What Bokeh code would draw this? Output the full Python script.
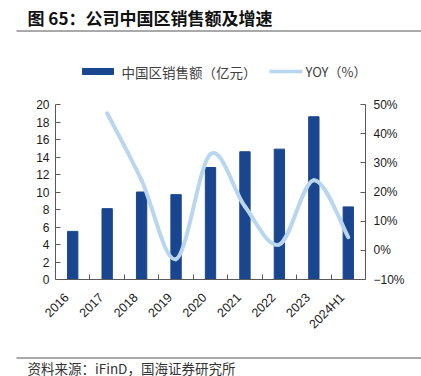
import numpy as np
from math import pi
from bokeh.plotting import figure
from bokeh.models import Range1d, LinearAxis, FixedTicker, Label
from bokeh.layouts import column
from bokeh.embed import file_html
from bokeh.resources import INLINE

# ---------------- data ----------------
years = ["2016", "2017", "2018", "2019", "2020", "2021", "2022", "2023", "2024H1"]
sales = [5.5, 8.1, 10.0, 9.7, 12.8, 14.6, 14.9, 18.6, 8.3]          # 亿元
yoy_years = ["2017", "2018", "2019", "2020", "2021", "2022", "2023", "2024H1"]
yoy = [47, 24, -3, 33, 15, 2, 24, 4.5]                               # %
left_ticks = [0, 2, 4, 6, 8, 10, 12, 14, 16, 18, 20]
right_ticks = [-10, 0, 10, 20, 30, 40, 50]
right_labels = ["\u221210%", "0%", "10%", "20%", "30%", "40%", "50%"]

title_text = "图 65：公司中国区销售额及增速"
source_text = "资料来源：iFinD，国海证券研究所"
bar_label = "中国区销售额（亿元）"
line_label = "YOY（%）"

BAR = "#1A4690"
LINE = "#B9D6EF"
AXIS = "#595959"
CJK = "Noto Sans CJK SC"
LAT = "Liberation Sans"
W = 421


def blank(height):
    f = figure(width=W, height=height, x_range=Range1d(0, W), y_range=Range1d(height, 0),
               output_backend="svg", toolbar_location=None, min_border=0,
               min_border_left=0, min_border_right=0, min_border_top=0, min_border_bottom=0,
               x_axis_location=None, y_axis_location=None, title=None, frame_align=False)
    f.grid.visible = False
    f.outline_line_color = None
    return f


# ---------------- header (title + legend) ----------------
hdr = blank(90)
hdr.add_layout(Label(x=27, y=17, text=title_text, text_font=CJK, text_font_size="17px",
                     text_font_style="bold", text_color="#111111", text_baseline="middle"))
hdr.segment(x0=[16], y0=[30.5], x1=[W], y1=[30.5], line_color="#555555", line_width=1)
# legend swatches
hdr.rect(x=[97.5], y=[71], width=[31], height=[6], fill_color=BAR, line_color=BAR)
hdr.add_layout(Label(x=121, y=71, text=bar_label, text_font=CJK, text_font_size="13.5px",
                     text_color="#404040", text_baseline="middle"))
hdr.segment(x0=[269], y0=[71], x1=[302], y1=[71], line_color=LINE, line_width=3.5)
hdr.add_layout(Label(x=305, y=71, text=line_label, text_font=CJK, text_font_size="13px",
                     text_color="#404040", text_baseline="middle"))

# ---------------- main chart ----------------
n = len(years)
xc = [i + 0.5 for i in range(n)]
p = figure(width=W, height=260, x_range=Range1d(0, n), y_range=Range1d(0, 20),
           output_backend="svg", toolbar_location=None, frame_align=False,
           min_border_left=55, min_border_right=56, min_border_top=14, min_border_bottom=71)
p.grid.visible = False
p.outline_line_color = None
p.extra_y_ranges = {"yoy": Range1d(-10, 50)}

p.vbar(x=xc, top=sales, width=0.3, fill_color=BAR, line_color=BAR)

# smooth curve through YOY points (Catmull-Rom -> cubic Bezier segments)
yx = [years.index(y) + 0.5 for y in yoy_years]
m = len(yx)
x0s, y0s, x1s, y1s, cx0s, cy0s, cx1s, cy1s = ([] for _ in range(8))
for i in range(m - 1):
    a = max(i - 1, 0)
    d = min(i + 2, m - 1)
    x0s.append(yx[i]); y0s.append(yoy[i])
    x1s.append(yx[i + 1]); y1s.append(yoy[i + 1])
    cx0s.append(yx[i] + (yx[i + 1] - yx[a]) / 6); cy0s.append(yoy[i] + (yoy[i + 1] - yoy[a]) / 6)
    cx1s.append(yx[i + 1] - (yx[d] - yx[i]) / 6); cy1s.append(yoy[i + 1] - (yoy[d] - yoy[i]) / 6)
p.bezier(x0=x0s, y0=y0s, x1=x1s, y1=y1s, cx0=cx0s, cy0=cy0s, cx1=cx1s, cy1=cy1s,
         line_color=LINE, line_width=4, line_cap="round", y_range_name="yoy")

# left axis
ya = p.yaxis[0]
ya.ticker = FixedTicker(ticks=left_ticks)
# right axis
ra = LinearAxis(y_range_name="yoy", ticker=FixedTicker(ticks=right_ticks),
                major_label_overrides={t: l for t, l in zip(right_ticks, right_labels)})
p.add_layout(ra, "right")
for ax in (ya, ra):
    ax.major_tick_in = 5
    ax.major_tick_out = 0
    ax.minor_tick_line_color = None
    ax.axis_line_color = AXIS
    ax.major_tick_line_color = AXIS
    ax.major_label_text_font = LAT
    ax.major_label_text_font_size = "12px"
    ax.major_label_text_color = "#1a1a1a"
ya.major_label_standoff = 6
ra.major_label_standoff = 8

# bottom axis: labels near category centres (nudged for the rotated text), ticks at boundaries
label_pos = [x - 0.17 for x in xc]
xa = p.xaxis[0]
xa.ticker = FixedTicker(ticks=label_pos, minor_ticks=list(range(1, n)))
xa.major_label_overrides = {x: y for x, y in zip(label_pos, years)}
xa.major_tick_in = 0
xa.major_tick_out = 0
xa.minor_tick_in = 5
xa.minor_tick_out = 0
xa.minor_tick_line_color = AXIS
xa.axis_line_color = AXIS
xa.major_label_orientation = pi / 4
xa.major_label_standoff = 16
xa.major_label_text_font = LAT
xa.major_label_text_font_size = "12.5px"
xa.major_label_text_color = "#1a1a1a"

# ---------------- footer ----------------
ftr = blank(26)
ftr.segment(x0=[16], y0=[7.5], x1=[W], y1=[7.5], line_color="#555555", line_width=1)
ftr.add_layout(Label(x=27, y=17, text=source_text, text_font=CJK, text_font_size="13.5px",
                     text_color="#333333", text_baseline="middle"))

layout = column(hdr, p, ftr, spacing=0)
open("out.html", "w").write(file_html(layout, INLINE))
